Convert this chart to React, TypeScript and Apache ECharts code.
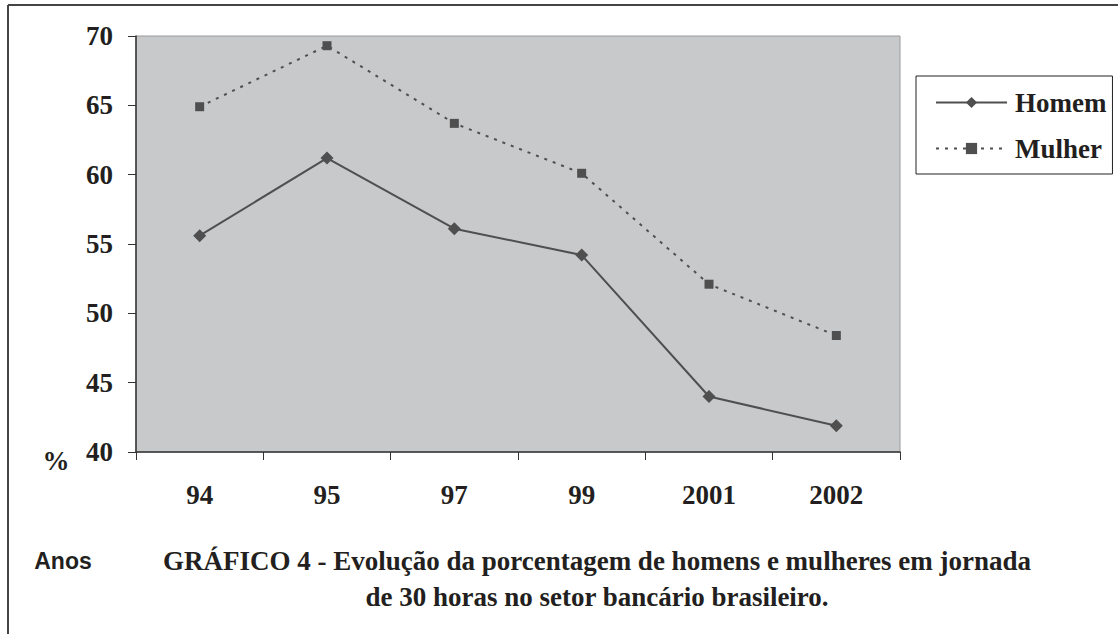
import React, { useEffect, useRef } from "react";
import * as echarts from "echarts";

const categories = ["94", "95", "97", "99", "2001", "2002"];
const homem = [55.6, 61.2, 56.1, 54.2, 44.0, 41.9];
const mulher = [64.9, 69.3, 63.7, 60.1, 52.1, 48.4];
const yMin = 40;
const yMax = 70;
const yStep = 5;
const captionLine1 = "GRÁFICO 4 - Evolução da porcentagem de homens e mulheres em jornada";
const captionLine2 = "de 30 horas no setor bancário brasileiro.";

const SERIF = "'Liberation Serif', 'Times New Roman', serif";
const SANS = "'Liberation Sans', Arial, sans-serif";
const INK = "#231f20";
const LINE = "#4f4f4f";

export default function App() {
  const ref = useRef<HTMLDivElement>(null);
  useEffect(() => {
    if (!ref.current) return;
    const chart = echarts.init(ref.current, null, { renderer: "svg" });
    chart.setOption({
      animation: false,
      backgroundColor: "#ffffff",
      grid: {
        left: 136,
        right: 218,
        top: 36,
        bottom: 182,
        show: true,
        backgroundColor: "#c8c9cb",
        borderColor: "#9a9a9a",
        borderWidth: 1,
      },
      legend: {
        orient: "vertical",
        left: 916,
        top: 76,
        padding: [13, 6, 12, 19],
        backgroundColor: "#ffffff",
        borderColor: "#222222",
        borderWidth: 1,
        itemWidth: 71,
        itemHeight: 14,
        itemGap: 19,
        textStyle: {
          fontFamily: SERIF,
          fontWeight: "bold",
          fontSize: 27,
          color: INK,
          padding: [0, 0, 0, 3],
        },
        data: ["Homem", "Mulher"],
      },
      xAxis: {
        type: "category",
        data: categories,
        boundaryGap: true,
        axisLine: { lineStyle: { color: "#333333", width: 1.5 } },
        axisTick: { show: true, length: 8, lineStyle: { color: "#333333" } },
        axisLabel: {
          margin: 29,
          fontFamily: SERIF,
          fontWeight: "bold",
          fontSize: 27,
          color: INK,
        },
        splitLine: { show: false },
      },
      yAxis: {
        type: "value",
        min: yMin,
        max: yMax,
        interval: yStep,
        axisLine: { show: true, lineStyle: { color: "#333333", width: 1.5 } },
        axisTick: { show: true, length: 8, lineStyle: { color: "#333333" } },
        axisLabel: {
          margin: 23,
          fontFamily: SERIF,
          fontWeight: "bold",
          fontSize: 27,
          color: INK,
        },
        splitLine: { show: false },
      },
      series: [
        {
          name: "Homem",
          type: "line",
          data: homem,
          symbol: "diamond",
          symbolSize: 13,
          lineStyle: { color: LINE, width: 2 },
          itemStyle: { color: LINE },
        },
        {
          name: "Mulher",
          type: "line",
          data: mulher,
          symbol: "rect",
          symbolSize: 9,
          lineStyle: { color: LINE, width: 2, type: [3, 6] },
          itemStyle: { color: LINE },
        },
      ],
      graphic: [
        {
          type: "line",
          shape: { x1: 8, y1: 5, x2: 1118, y2: 5 },
          style: { stroke: "#444444", lineWidth: 2 },
        },
        {
          type: "line",
          shape: { x1: 8, y1: 5, x2: 8, y2: 634 },
          style: { stroke: "#444444", lineWidth: 2 },
        },
        {
          type: "text",
          x: 56,
          y: 461,
          style: {
            text: "%",
            fontFamily: SERIF,
            fontWeight: "bold",
            fontSize: 27,
            fill: INK,
            align: "center",
            verticalAlign: "middle",
          },
        },
        {
          type: "text",
          x: 63,
          y: 561,
          style: {
            text: "Anos",
            fontFamily: SANS,
            fontWeight: "bold",
            fontSize: 23,
            fill: INK,
            align: "center",
            verticalAlign: "middle",
          },
        },
        {
          type: "text",
          x: 597,
          y: 561,
          style: {
            text: captionLine1,
            fontFamily: SERIF,
            fontWeight: "bold",
            fontSize: 27,
            fill: INK,
            align: "center",
            verticalAlign: "middle",
          },
        },
        {
          type: "text",
          x: 597,
          y: 597,
          style: {
            text: captionLine2,
            fontFamily: SERIF,
            fontWeight: "bold",
            fontSize: 27,
            fill: INK,
            align: "center",
            verticalAlign: "middle",
          },
        },
      ],
    });
    return () => chart.dispose();
  }, []);
  return (
    <div
      ref={ref}
      style={{ position: "fixed", left: 0, top: 0, width: 1118, height: 634 }}
    />
  );
}
